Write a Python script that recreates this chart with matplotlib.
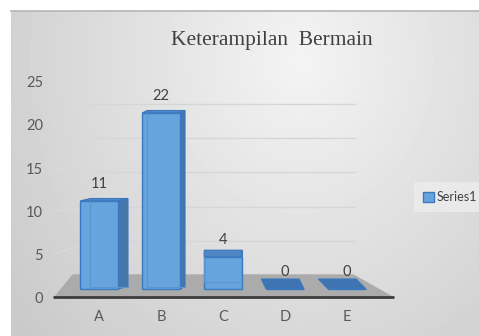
import numpy as np
import matplotlib
matplotlib.use("Agg")
import matplotlib.pyplot as plt

# ---- data ----
categories = ["A", "B", "C", "D", "E"]
values = [11, 22, 4, 0, 0]
tick_values = [0, 5, 10, 15, 20, 25]
series_name = "Series1"
title = "Keterampilan  Bermain"

W, H = 479, 336
fig = plt.figure(figsize=(W / 100, H / 100), dpi=100)
fig.patch.set_facecolor("white")

# ---- grey radial background of the chart area ----
bg = fig.add_axes([11 / W, 0, (W - 11) / W, (H - 11) / H])
yy, xx = np.mgrid[11:H, 11:W]
dist = np.sqrt(((xx - 300) / 330.0) ** 2 + ((yy - 60) / 380.0) ** 2)
shade = np.clip(0.955 - 0.15 * dist, 0.79, 1.0)
bg.imshow(shade, cmap="gray", vmin=0, vmax=1, aspect="auto",
          extent=[11, W, H, 11], interpolation="bilinear")
bg.set_xlim(11, W)
bg.set_ylim(H, 11)
bg.set_xticks([])
bg.set_yticks([])
for s in ["left", "right", "bottom"]:
    bg.spines[s].set_visible(False)
bg.spines["top"].set_color("#b5b5b5")
bg.spines["top"].set_linewidth(1.2)

# ---- main axes: 62 px per category, 8 px per unit ----
PX_X, PX_Y = 62.0, 8.0
ax = fig.add_axes([43.2 / W, (H - 309) / H, (409 - 43.2) / W, (309 - 77) / H])
ax.set_xlim(-0.9, 5.0)
ax.set_ylim(-2.5, 26.5)
ax.patch.set_alpha(0)
for s in ax.spines.values():
    s.set_visible(False)

def front_y(v):
    # tick positions on the front edge of the floor
    return -1.1 + v * 1.08

def back_y(v):
    # gridline heights on the back wall
    return 1.75 + v * 0.855

txt = "#595959"
font = ["Lato", "DejaVu Sans"]

# floor
ax.fill([-0.71, 4.73, 4.1, -0.42], [-1.0, -1.0, 1.75, 1.75],
        color="#ababab", zorder=1)
ax.plot([-0.75, 4.75], [-1.0, -1.0], color="#3c3c3c", lw=2.0,
        solid_capstyle="butt", zorder=2)

# back wall gridlines + side wall lines
for v in tick_values[1:]:
    ax.plot([-0.11, 4.13], [back_y(v), back_y(v)], color="#d6d6d6",
            lw=1.0, zorder=0.5)
    ax.plot([-0.74, -0.11], [front_y(v), back_y(v)], color="#dadada",
            lw=0.9, zorder=0.5)

ax.set_yticks([front_y(v) for v in tick_values])
ax.set_yticklabels([str(v) for v in tick_values])
ax.tick_params(axis="y", length=0, pad=0, labelsize=10.5, labelcolor=txt)
ax.set_xticks(range(len(categories)))
ax.set_xticklabels(categories)
ax.tick_params(axis="x", length=0, pad=1, labelsize=10.5, labelcolor=txt)
for lab in ax.get_xticklabels() + ax.get_yticklabels():
    lab.set_fontfamily(font)

# ---- 3D-looking bars ----
width = 0.61
front_c = "#67a3dc"
side_c = "#4677aa"
top_c = "#4f87c2"
edge_c = "#3a78c0"

bars = ax.bar(range(len(values)), values, width=width, color=front_c,
              edgecolor=edge_c, linewidth=1.0, zorder=4, label=series_name)

for i, v in enumerate(values):
    cx_px = 99 + PX_X * i
    dx = -0.08 * (cx_px - 225) / PX_X
    dy = max(2.5, 10 - 0.8 * v) / PX_Y
    x0, x1 = i - width / 2, i + width / 2
    # top face
    ax.fill([x0, x1, x1 + dx, x0 + dx], [v, v, v + dy, v + dy],
            facecolor=top_c if v > 0 else "#3f74b3", edgecolor=edge_c,
            lw=0.8, zorder=3 if v > 0 else 4)
    if v > 0:
        # side face
        xs = x1 if dx > 0 else x0
        ax.fill([xs, xs, xs + dx, xs + dx], [0, v, v + dy, dy],
                facecolor=side_c, edgecolor=edge_c, lw=0.8, zorder=3)
        # hidden back edges seen through the front face
        bx = x0 + dx if dx > 0 else x1 + dx
        ax.plot([bx, bx], [dy, v], color="#5b95cf", lw=0.8, zorder=5)
        ax.plot([x0 + dx, x1 + dx], [dy, dy], color="#5b95cf", lw=0.8,
                zorder=5)
    ax.annotate(str(v), (i, v), xytext=(0, 12), textcoords="offset points",
                ha="center", va="center", fontsize=10.5, color="#404040",
                family=font, zorder=6)

# ---- title and legend ----
fig.text(272 / W, 1 - 40 / H, title, ha="center", va="center",
         fontsize=15.5, color="#404040", family="Liberation Serif")

leg = fig.legend(handles=[bars], labels=[series_name], loc="center left",
                 bbox_to_anchor=(414 / W, 1 - 197 / H), frameon=True,
                 handlelength=0.85, handleheight=0.85, handletextpad=0.2,
                 borderpad=0.75, borderaxespad=0,
                 prop={"family": font, "size": 9})
leg.get_frame().set_facecolor("#ededed")
leg.get_frame().set_edgecolor("none")
leg.get_frame().set_boxstyle("square", pad=0)
for t in leg.get_texts():
    t.set_color("#404040")

fig.savefig("out.png", dpi=100)
